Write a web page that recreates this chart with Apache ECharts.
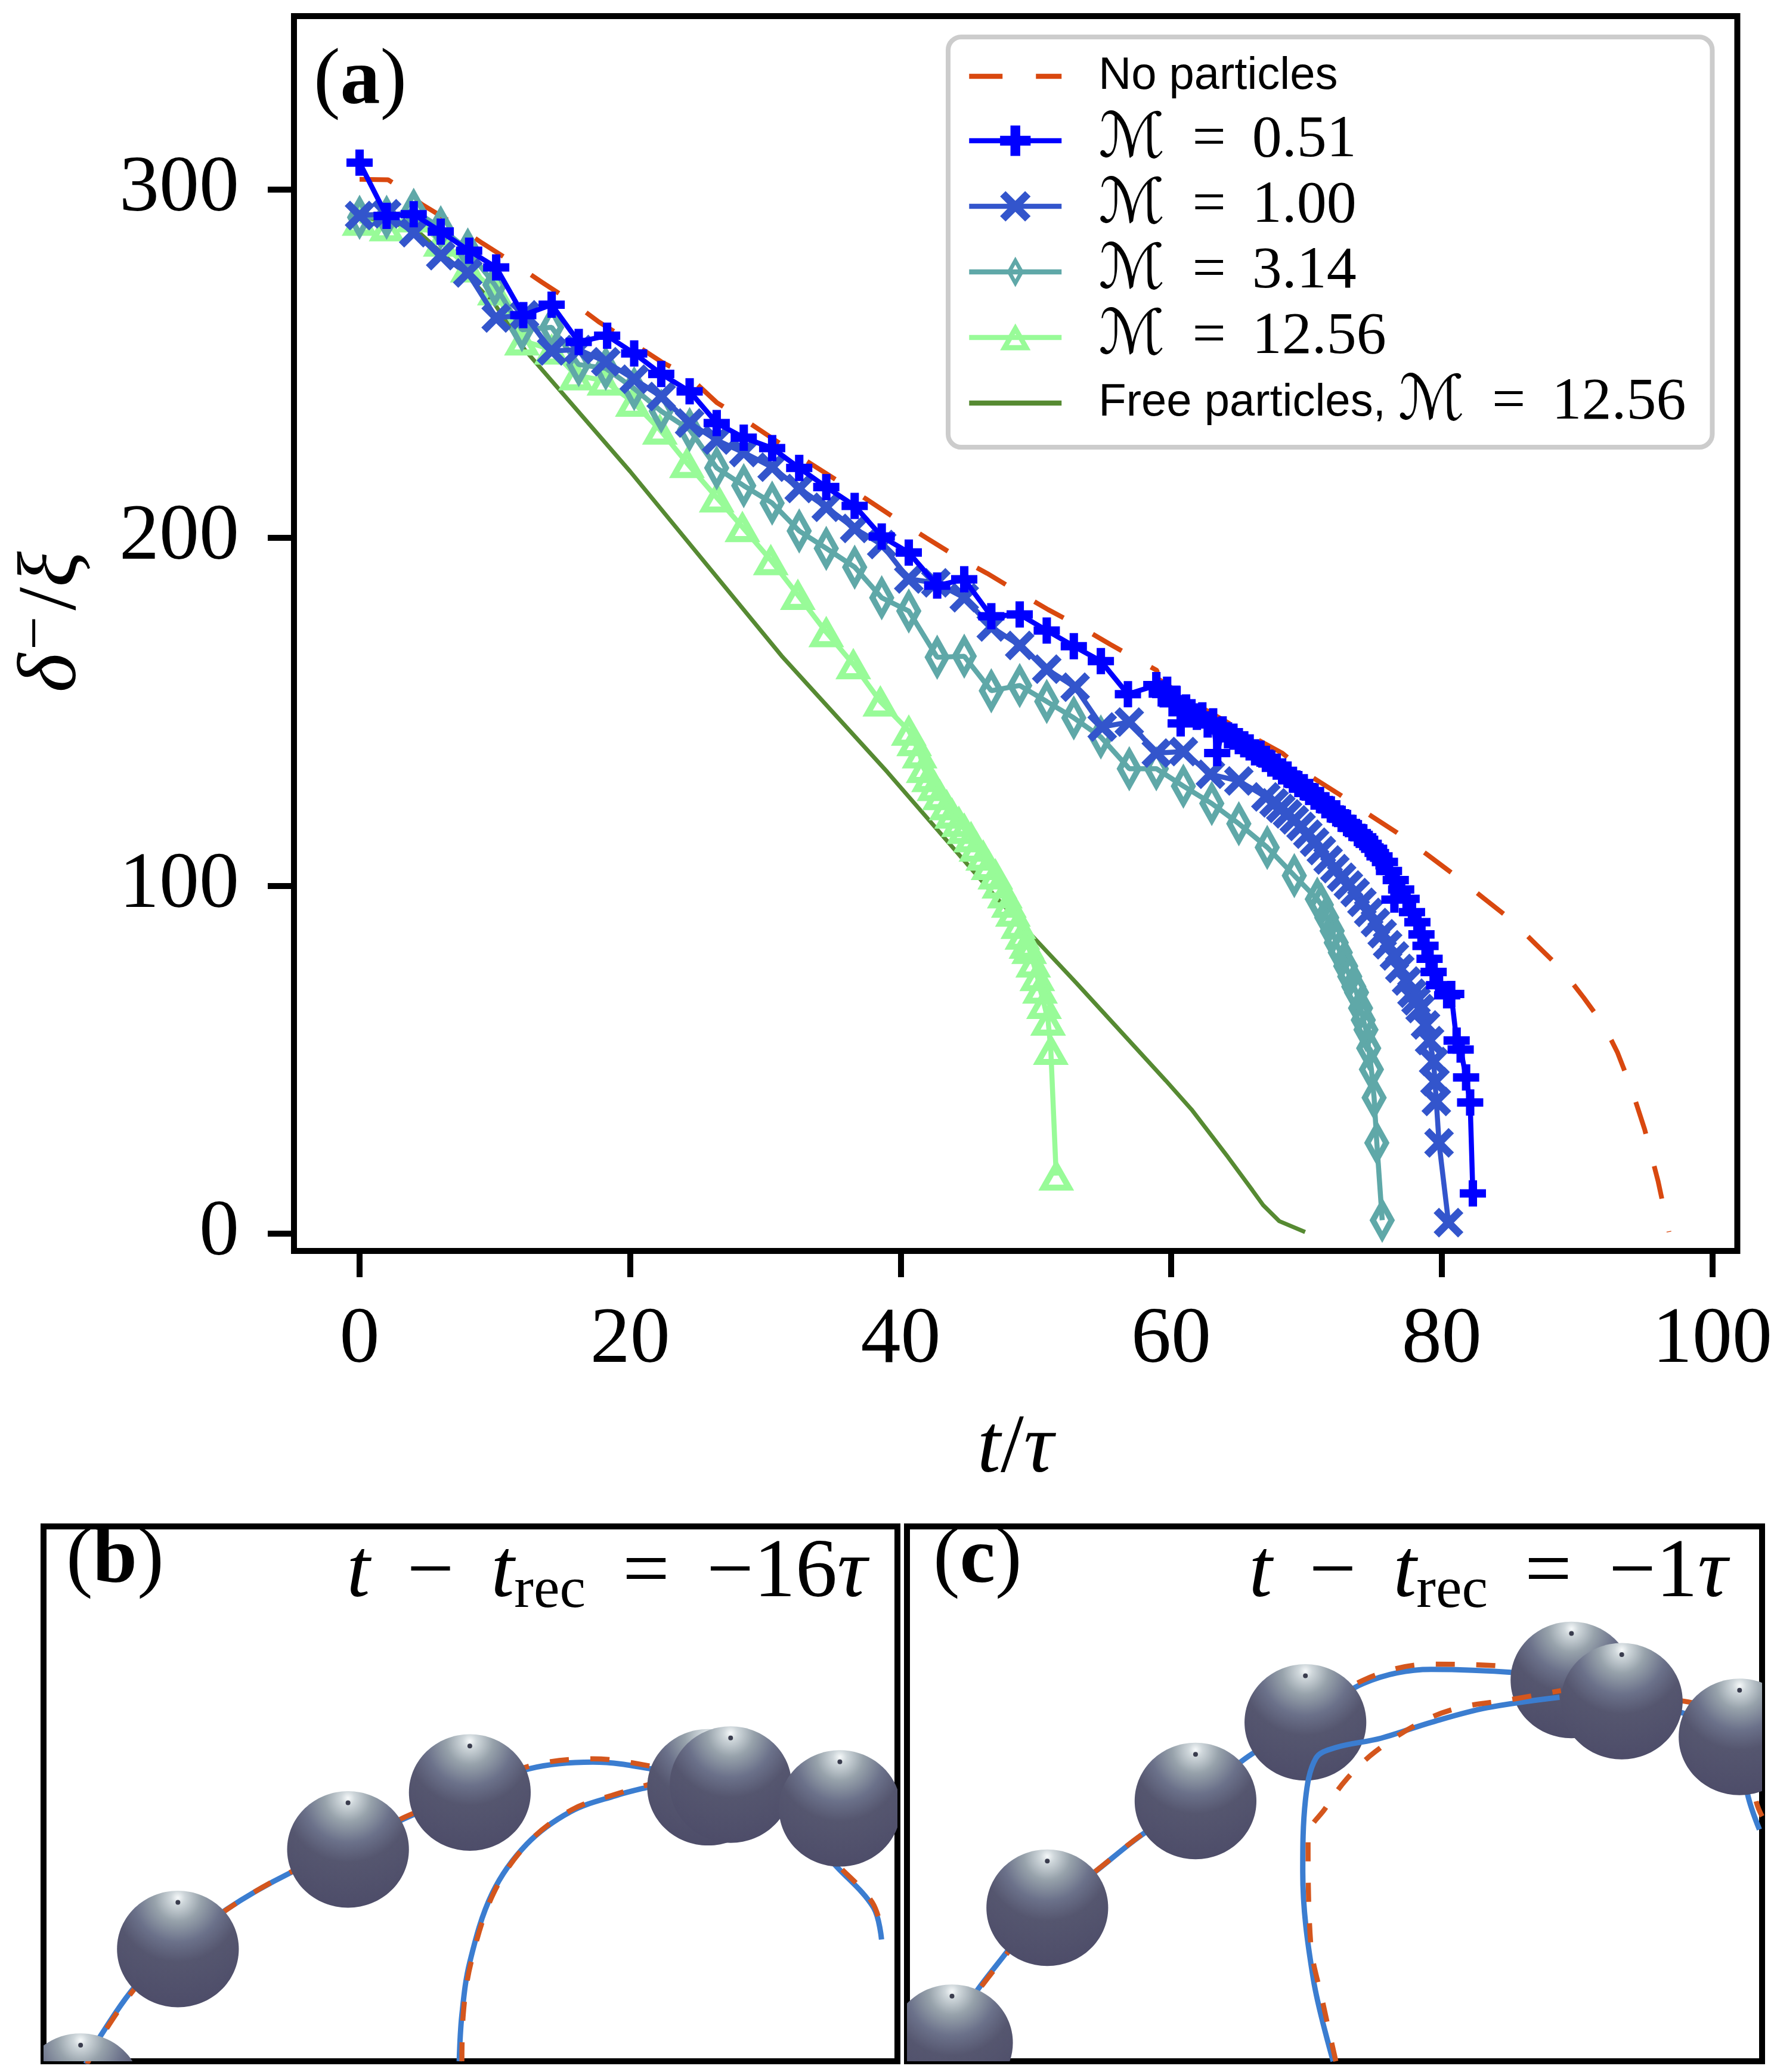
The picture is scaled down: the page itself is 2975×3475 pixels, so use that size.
<!DOCTYPE html>
<html>
<head>
<meta charset="utf-8">
<title>Reconnection with particles</title>
<script src="https://cdn.jsdelivr.net/npm/echarts@6/dist/echarts.min.js"></script>
<style>
  * { margin: 0; padding: 0; }
  html, body { width: 2975px; height: 3475px; background: #fff; }
  #chart { width: 2975px; height: 3475px; }
</style>
</head>
<body>
<div id="chart"></div>
<script>
// ---- panel (a): axes ----
var xTicks = [0, 20, 40, 60, 80, 100];
var yTicks = [0, 100, 200, 300];

// ---- panel (a): series, [t/tau, delta/xi] ----
var noParticles = [[0.0,302.9],[2.1,302.8],[2.5,301.8],[4.65,295.6],[6.9,290.3],[9.1,284.5],[11.3,279.1],[13.5,273.3],[15.7,267.7],[17.7,261.9],[19.9,256.6],[22.3,250.5],[24.3,246.4],[26.4,238.8],[28.7,233.2],[30.9,227.5],[33,222.1],[35.3,216.4],[37.4,211.2],[39.7,205.3],[41.9,199.9],[44.1,194.6],[46.4,189.7],[48.7,184.3],[50.9,179.3],[53.3,174.3],[55.5,169.3],[57.9,164.1],[58.95,161.8],[59.0,159.5],[61.9,151.9],[66.4,141.9],[68.2,138.1],[70.4,131.2],[72.4,126.3],[74.6,120.5],[76.7,115.2],[78.9,109],[81,102.9],[83.1,96.4],[85.1,90.3],[87,83],[88.9,75.8],[90.5,67.8],[92,59.8],[93,52],[94,42],[95,30],[96,15],[96.8,0.5]];

var m051 = [[0,307.7],[2.0,292.4],[4.0,292.9],[6.0,287.9],[8.1,282.4],[10.1,277.6],[12.1,263.9],[14.2,266.9],[16.2,256.2],[18.3,258],[20.3,252.9],[22.3,247],[24.4,242],[26.4,232.9],[28.4,228.7],[30.5,225.7],[32.5,220],[34.5,214.5],[36.6,209.1],[38.6,200.3],[40.6,195.7],[42.7,186.2],[44.7,188],[46.7,177.4],[48.8,177.9],[50.8,173.3],[52.8,168.8],[54.8,164.5],[56.8,155.0],[58.9,157.6],[59.3,155.2],[59.7,156.3],[60.1,152.4],[60.4,153.6],[60.7,146.6],[61.1,151.2],[61.5,149.8],[61.9,148.5],[62.3,148.9],[62.7,146.3],[63.1,147.2],[63.4,138.1],[63.8,144.9],[64.2,143.2],[64.6,142.8],[65.0,141.5],[65.4,140.6],[65.8,139.7],[66.2,138.3],[66.6,137.9],[67.0,136.4],[67.4,135.1],[67.8,134.2],[68.2,132.8],[68.6,131.9],[69.0,130.4],[69.4,129.2],[69.8,128.3],[70.2,126.9],[70.6,125.6],[71.0,124.6],[71.4,123.1],[71.8,121.9],[72.2,120.8],[72.6,119.2],[73.0,118.0],[73.4,116.6],[73.8,115.1],[74.2,113.9],[74.6,112.0],[75.0,110.6],[75.4,108.4],[75.8,106.8],[76.1,104.2],[76.5,96.0],[76.6,101.6],[77.0,98.9],[77.4,96.2],[77.8,92.4],[78.2,89.5],[78.5,86.0],[78.8,82.7],[79.1,79.0],[79.4,75.2],[79.8,71.4],[80.4,68.5],[80.7,68.9],[81.1,55.5],[81.4,52.9],[81.8,44.9],[82.1,37.7],[82.3,11.6]];

var m100 = [[0,292.5],[2,293],[4,287.6],[6,281],[8,276],[10.1,263.1],[12.2,264],[14.2,253.6],[16.2,254],[18.2,250.5],[20.3,245.5],[22.3,240.5],[24.4,232.9],[26.4,228],[28.4,224.4],[30.5,220.2],[32.5,214.1],[34.5,208.7],[36.6,202.6],[38.6,198],[40.6,188.1],[42.6,187],[44.7,182.7],[46.7,174.3],[48.8,169],[50.8,162.2],[52.9,157],[54.9,145.6],[56.9,147],[58.9,138.1],[60.9,138.5],[62.9,132],[65,130.1],[67,125.5],[67.6,123.8],[68.1,122.2],[68.6,120.6],[69.1,118.9],[69.6,117.0],[70.1,114.8],[70.6,112.5],[71.1,110.1],[71.6,107.4],[72.1,104.9],[72.6,102.4],[73.1,100.2],[73.6,98.0],[74.1,95.2],[74.6,92.3],[75.1,89.4],[75.6,86.2],[76.0,83.0],[76.5,79.8],[76.9,76.2],[77.4,72.6],[77.8,69.1],[78.1,66.9],[78.4,64.7],[78.8,60.0],[79.1,55.5],[79.4,49.5],[79.5,43.7],[79.6,38.0],[79.8,26.1],[80.5,3.2]];

var m314 = [[0,292],[2,292],[4,294],[6,289],[8,282.6],[10,272.6],[12,259.7],[14.2,260.4],[16.2,249.7],[18.2,248.6],[20.3,242.8],[22.3,236.3],[24.4,231],[26.4,220],[28.4,214.9],[30.5,209.9],[32.5,201.9],[34.5,196.9],[36.6,191.5],[38.6,182.7],[40.6,178.9],[42.7,165.6],[44.7,165.9],[46.7,156],[48.8,157.5],[50.8,152.9],[52.8,148.2],[54.8,142.7],[56.9,133.6],[58.9,133.6],[60.9,128.6],[63,123.6],[65,117.8],[67.1,111],[69.1,102.9],[70.8,96.1],[71.1,94.5],[71.5,90.8],[71.9,87.0],[72.2,83.6],[72.5,80.8],[72.9,76.9],[73.2,73.9],[73.5,71.0],[73.7,69.3],[74.0,64.8],[74.2,61.4],[74.4,58.6],[74.6,53.3],[74.8,47.2],[75.0,39.1],[75.2,26.1],[75.6,3.9]];

var m1256 = [[0,291],[2,289.4],[4,292],[6,285],[8,277.6],[10,271],[12,256.6],[14.2,254],[16,246.6],[18.1,245.1],[20.2,239],[22.2,231],[24.2,221.4],[26.4,211.5],[28.3,203],[30.4,193.5],[32.4,183.5],[34.5,172.8],[36.5,163.6],[38.5,152.9],[40.6,144.5],[41.0,141.5],[41.4,138.0],[41.7,133.8],[42.1,131.2],[42.5,128.6],[42.9,126.0],[43.4,123.1],[43.8,120.7],[44.3,118.3],[44.7,116.3],[45.2,113.9],[45.6,111.2],[46.1,108.6],[46.5,105.9],[47.0,103.2],[47.3,100.6],[47.7,97.8],[48.0,95.1],[48.3,92.5],[48.7,89.0],[49.0,85.9],[49.3,83.3],[49.5,81.8],[49.8,77.9],[50.1,74.0],[50.3,70.4],[50.6,66.0],[50.9,61.2],[51.1,52.8],[51.5,16.7]];

var freeParticles = [[0,292],[4,289],[8,275],[10,267],[12.2,254],[20,219],[31.2,166],[39,132.7],[47.2,96],[53,72],[59.6,44],[61.5,35.7],[64.2,22],[66,12.5],[66.8,8.2],[68,3.6],[69.9,0.5]];

// ---- panels (b), (c): sphere centres and filament traces, in panel units ----
var spheresB = [[28,-23],[101.5,84.8],[230,160],[322,203],[502,207],[519,209],[601.5,191]];
var outerB = [[32,-2],[41,16],[73,61],[102,85],[138,114.5],[187,142.7],[230,160],[272,183],[322,203],[367,221],[415,226],[458,221],[505,210],[559,186],[601,145],[627,116],[633,92]];
var innerB = [[314,0],[316,35],[322,75],[339,127],[365,164],[398,188.5],[432,200.6],[458,207.4],[470,210]];
var outerBRef = [[33,-2],[42,16],[74,61],[102,85],[139,115],[188,143.5],[230,161],[272,184],[322,204],[367,223],[415,228.5],[458,223],[505,211],[559,187],[602,146],[626,120],[634,96]];
var innerBRef = [[316,0],[317,35],[323,75],[340,127],[366,165],[399,190],[433,202],[459,209.5],[470,212]];

var spheresC = [[34,14],[106,116],[218,196.6],[301,256],[502,288],[540,272],[629,245]];
var outerC = [[36,0],[38,24],[78,86],[106,116],[142,143],[176,170],[218,197],[256,229],[301,256],[345,285.5],[396,296],[460,293.5],[502,288],[540,272],[583,264],[604,256],[629,245],[635,202],[644,175]];
var innerC = [[322,0],[307,62],[299,143],[301,197],[309,229],[324,237],[358,244],[396,256],[438,267],[493,275]];
var outerCRef = [[37,0],[39,24],[79,86],[106,116],[143,144],[177,171],[218,198],[257,231],[301,258],[345,288],[396,300],[460,297.6],[502,290],[540,275],[587,272],[622,262],[641,252],[641,200],[646,185]];
var innerCRef = [[324,0],[314,45],[305,89],[303,170],[316,191],[332,213],[354,234],[388,256],[417,267],[455,273],[494,280]];

// ---- marker shapes (unit box 0..100; hollow ones cut with a reversed inner contour) ----
var PLUS = 'path://M34,0H66V34H100V66H66V100H34V66H0V34H34Z';
var CROSS = 'path://M0,18L18,0L50,32L82,0L100,18L68,50L100,82L82,100L50,68L18,100L0,82L32,50Z';
var THIN_DIAMOND = 'path://M0,0M100,100M50,0L78,50L50,100L22,50ZM50,26L37,50L50,74L63,50Z';
var TRIANGLE = 'path://M0,0M100,100M50,4L100,92L0,92ZM50,38L29,75L71,75Z';

var C_NOPART = '#d9480f';
var C_051 = '#0000ff';
var C_100 = '#3355cc';
var C_314 = '#5fa8a8';
var C_1256 = '#98fb98';
var C_FREE = '#568a32';
var C_FIL = '#3b7dd0';
var C_FILREF = '#d4561d';

var SERIF = "'Liberation Serif', 'DejaVu Serif', serif";
var SANS = "'Liberation Sans', 'DejaVu Sans', sans-serif";
var SCRIPT = "'DejaVu Serif', 'DejaVu Sans', serif";

function markerSeries(name, data, color, symbol, size, z) {
  return {
    name: name, type: 'line', data: data,
    symbol: symbol, symbolSize: size,
    color: color,
    itemStyle: { color: color, borderWidth: 0 },
    lineStyle: { color: color, width: 8.5 },
    z: z, silent: true, emphasis: { disabled: true }
  };
}

function filament(data, grid, color, dashed, z) {
  return {
    type: 'line', data: data, xAxisIndex: grid, yAxisIndex: grid,
    symbol: 'none', smooth: 0.35, silent: true, z: z,
    lineStyle: dashed ? { color: color, width: 8.5, type: [32, 36] } : { color: color, width: 9 }
  };
}

function drawSphere(params, api) {
  var c = api.coord([api.value(0), api.value(1)]);
  var s = api.size([46, 44]);
  return {
    type: 'group',
    children: [
      {
        type: 'ellipse',
        shape: { cx: c[0], cy: c[1], rx: s[0], ry: s[1] },
        style: {
          fill: {
            type: 'radial', x: 0.5, y: 0.06, r: 1.0,
            colorStops: [
              { offset: 0, color: '#f6f9fa' },
              { offset: 0.06, color: '#cfd7db' },
              { offset: 0.2, color: '#97a2ab' },
              { offset: 0.38, color: '#6b718a' },
              { offset: 0.55, color: '#55566f' },
              { offset: 1, color: '#4c4b68' }
            ]
          }
        }
      },
      { type: 'circle', shape: { cx: c[0], cy: c[1] - s[1] * 0.8, r: 4 }, style: { fill: '#3a3d4e' } }
    ]
  };
}

function spheres(data, grid) {
  return {
    type: 'custom', data: data, xAxisIndex: grid, yAxisIndex: grid,
    encode: { x: 0, y: 1 }, renderItem: drawSphere, clip: true, silent: true, z: 5
  };
}

function hiddenAxis(max) {
  return { type: 'value', min: 0, max: max, show: false };
}

var legendNames = ['No particles', 'ℳ = 0.51', 'ℳ = 1.00', 'ℳ = 3.14', 'ℳ = 12.56', 'Free particles, ℳ = 12.56'];
var legendData = legendNames.map(function (n) {
  return (n === 'No particles' || n.indexOf('Free') === 0) ? { name: n, itemStyle: { opacity: 0 } } : { name: n };
});

var option = {
  animation: false,
  backgroundColor: '#fff',
  grid: [
    { left: 493, top: 27, width: 2422, height: 2071, show: true, borderColor: '#000', borderWidth: 10, backgroundColor: 'transparent' },
    { left: 73, top: 2560, width: 1432, height: 897, show: true, borderColor: '#000', borderWidth: 10, backgroundColor: 'transparent' },
    { left: 1521, top: 2560, width: 1434, height: 897, show: true, borderColor: '#000', borderWidth: 10, backgroundColor: 'transparent' }
  ],
  xAxis: [
    {
      type: 'value', min: -4.85, max: 101.85, gridIndex: 0,
      axisLine: { show: false, onZero: false }, splitLine: { show: false },
      axisTick: { show: true, inside: false, length: 44, customValues: xTicks, lineStyle: { color: '#000', width: 10 } },
      axisLabel: { customValues: xTicks, fontFamily: SERIF, fontSize: 134, color: '#000', margin: 84 }
    },
    Object.assign(hiddenAxis(645), { gridIndex: 1 }),
    Object.assign(hiddenAxis(646), { gridIndex: 2 })
  ],
  yAxis: [
    {
      type: 'value', min: -4.94, max: 349.8, gridIndex: 0,
      axisLine: { show: false, onZero: false }, splitLine: { show: false },
      axisTick: { show: true, inside: false, length: 44, customValues: yTicks, lineStyle: { color: '#000', width: 10 } },
      axisLabel: { customValues: yTicks, fontFamily: SERIF, fontSize: 134, color: '#000', margin: 92 }
    },
    Object.assign(hiddenAxis(404), { gridIndex: 1 }),
    Object.assign(hiddenAxis(404), { gridIndex: 2 })
  ],
  legend: {
    orient: 'vertical', left: 1590, top: 62,
    padding: [16, 44, 22, 31],
    itemWidth: 155, itemHeight: 64, itemGap: 6,
    backgroundColor: '#fff', borderColor: '#cccccc', borderWidth: 8, borderRadius: 22,
    selectedMode: false,
    data: legendData,
    lineStyle: { width: 8.5 },
    formatter: function (name) {
      if (name.indexOf('ℳ') < 0) return '{s|' + name + '}{z| }';
      var parts = name.split('ℳ = ');
      return (parts[0] ? '{s|' + parts[0] + '}' : '') + '{m|ℳ}{q|=}{n|' + parts[1] + '}';
    },
    textStyle: {
      color: '#000', padding: [0, 0, 0, 57],
      rich: {
        s: { fontFamily: SANS, fontSize: 76, color: '#000' },
        z: { fontFamily: SERIF, fontSize: 100, color: '#000' },
        m: { fontFamily: SCRIPT, fontSize: 104, color: '#000' },
        q: { fontFamily: SERIF, fontSize: 100, color: '#000', padding: [0, 44, 0, 46] },
        n: { fontFamily: SERIF, fontSize: 100, color: '#000' }
      }
    }
  },
  graphic: [
    {
      type: 'text', x: 526, y: 138, z: 100,
      style: { text: '({b|a})', fontFamily: SERIF, fontSize: 134, fill: '#000', align: 'left', verticalAlign: 'middle',
        rich: { b: { fontFamily: SERIF, fontSize: 134, fontWeight: 'bold', fill: '#000' } } }
    },
    {
      type: 'text', x: 1703, y: 2431, z: 100,
      style: { text: '{i|t}/{i|τ}', fontFamily: SERIF, fontSize: 140, fill: '#000', align: 'center', verticalAlign: 'middle',
        rich: { i: { fontFamily: SERIF, fontSize: 140, fontStyle: 'italic', fill: '#000' } } }
    },
    {
      type: 'text', x: 89, y: 1043, rotation: Math.PI / 2, z: 100,
      style: { text: '{i|δ}{sup|−}/{i|ξ}', fontFamily: SERIF, fontSize: 140, lineHeight: 150, fill: '#000', align: 'center', verticalAlign: 'middle',
        rich: {
          i: { fontFamily: SERIF, fontSize: 140, lineHeight: 150, fontStyle: 'italic', fill: '#000' },
          sup: { fontFamily: SERIF, fontSize: 100, lineHeight: 64, verticalAlign: 'top', fill: '#000', padding: [0, 10, 0, 6] }
        } }
    },
    {
      type: 'text', x: 111, y: 2618, z: 100,
      style: { text: '({b|b})', fontFamily: SERIF, fontSize: 134, fill: '#000', align: 'left', verticalAlign: 'middle',
        rich: { b: { fontFamily: SERIF, fontSize: 134, fontWeight: 'bold', fill: '#000' } } }
    },
    {
      type: 'text', x: 1454, y: 2640, z: 100,
      style: { text: '{i|t}{o|−}{i|t}{sub|rec}{o|=}{n|−16}{i|τ}', fontFamily: SERIF, fontSize: 140, lineHeight: 156, fill: '#000', align: 'right', verticalAlign: 'middle',
        rich: {
          i: { fontFamily: SERIF, fontSize: 140, lineHeight: 156, fontStyle: 'italic', fill: '#000' },
          n: { fontFamily: SERIF, fontSize: 140, lineHeight: 156, fill: '#000' },
          o: { fontFamily: SERIF, fontSize: 140, lineHeight: 156, fill: '#000', padding: [0, 62, 0, 62] },
          sub: { fontFamily: SERIF, fontSize: 98, lineHeight: 76, verticalAlign: 'bottom', fill: '#000' }
        } }
    },
    {
      type: 'text', x: 1565, y: 2618, z: 100,
      style: { text: '({b|c})', fontFamily: SERIF, fontSize: 134, fill: '#000', align: 'left', verticalAlign: 'middle',
        rich: { b: { fontFamily: SERIF, fontSize: 134, fontWeight: 'bold', fill: '#000' } } }
    },
    {
      type: 'text', x: 2897, y: 2640, z: 100,
      style: { text: '{i|t}{o|−}{i|t}{sub|rec}{o|=}{n|−1}{i|τ}', fontFamily: SERIF, fontSize: 140, lineHeight: 156, fill: '#000', align: 'right', verticalAlign: 'middle',
        rich: {
          i: { fontFamily: SERIF, fontSize: 140, lineHeight: 156, fontStyle: 'italic', fill: '#000' },
          n: { fontFamily: SERIF, fontSize: 140, lineHeight: 156, fill: '#000' },
          o: { fontFamily: SERIF, fontSize: 140, lineHeight: 156, fill: '#000', padding: [0, 62, 0, 62] },
          sub: { fontFamily: SERIF, fontSize: 98, lineHeight: 76, verticalAlign: 'bottom', fill: '#000' }
        } }
    }
  ],
  series: [
    {
      name: 'No particles', type: 'line', data: noParticles, symbol: 'none', color: C_NOPART,
      lineStyle: { color: C_NOPART, width: 8, type: [56, 56] }, z: 3, silent: true, emphasis: { disabled: true }
    },
    markerSeries('ℳ = 0.51', m051, C_051, PLUS, 44, 8),
    markerSeries('ℳ = 1.00', m100, C_100, CROSS, 50, 7),
    markerSeries('ℳ = 3.14', m314, C_314, THIN_DIAMOND, 76, 6),
    markerSeries('ℳ = 12.56', m1256, C_1256, TRIANGLE, 60, 5),
    {
      name: 'Free particles, ℳ = 12.56', type: 'line', data: freeParticles, symbol: 'none', color: C_FREE,
      lineStyle: { color: C_FREE, width: 7 }, z: 2, silent: true, emphasis: { disabled: true }
    },
    // panel (b)
    filament(outerB, 1, C_FIL, false, 3),
    filament(innerB, 1, C_FIL, false, 3),
    filament(outerBRef, 1, C_FILREF, true, 4),
    filament(innerBRef, 1, C_FILREF, true, 4),
    spheres(spheresB, 1),
    // panel (c)
    filament(outerC, 2, C_FIL, false, 3),
    filament(outerCRef, 2, C_FILREF, true, 4),
    spheres(spheresC, 2),
    filament(innerC, 2, C_FIL, false, 7),
    filament(innerCRef, 2, C_FILREF, true, 8)
  ]
};

var chart = echarts.init(document.getElementById('chart'));
chart.setOption(option);
</script>
</body>
</html>
